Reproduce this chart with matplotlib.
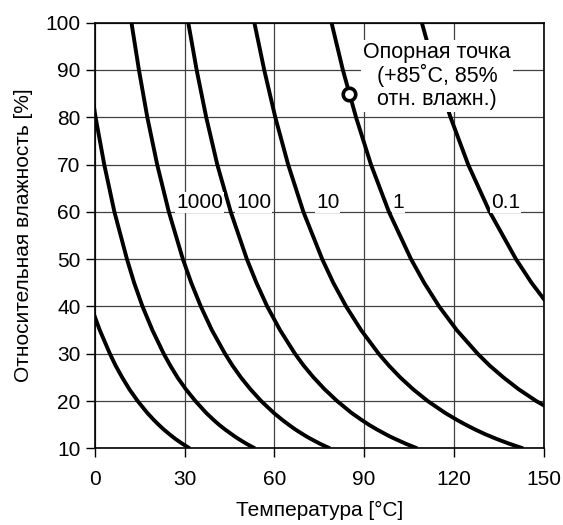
import numpy as np
import matplotlib
matplotlib.use("Agg")
import matplotlib.pyplot as plt

plt.rcParams['font.family'] = ['Liberation Sans', 'DejaVu Sans']

nan = np.nan
# Relative humidity levels [%] at which the temperature of each curve was read
rh_levels = [100, 90, 80, 70, 60, 50, 45, 40, 35, 30, 27.5, 25, 22.5, 20, 17.5, 16, 15, 14, 13, 12.5, 12, 11, 10]
# Temperature [°C] of each iso-lifetime curve at those humidity levels
curve_a = [nan, nan, nan, nan, nan, nan, nan, -1.3, 1.6, 5.0, 6.9, 9.1, 11.5, 14.3, 17.5, 19.7, 21.3, 23.0, 24.9, 25.9, 26.9, 29.2, 31.7]
curve_b = [nan, -2.3, 0.2, 3.1, 6.5, 10.7, 13.1, 15.9, 19.2, 23.0, 25.2, 27.6, 30.4, 33.6, 37.2, 39.7, 41.5, 43.5, 45.7, 46.8, 48.0, 50.6, 53.5]
curve_c = [12.2, 14.7, 17.5, 20.8, 24.7, 29.4, 32.2, 35.4, 39.1, 43.5, 46.0, 48.8, 52.0, 55.6, 59.8, 62.7, 64.8, 67.0, 69.5, 70.8, 72.2, 75.2, 78.6]
curve_d = [31.2, 34.0, 37.2, 40.9, 45.4, 50.8, 54.0, 57.6, 61.9, 66.9, 69.8, 73.1, 76.8, 81.0, 85.8, 89.2, 91.6, 94.3, 97.2, 98.7, 100.4, 103.9, 107.8]
curve_e = [53.3, 56.6, 60.3, 64.6, 69.7, 76.0, 79.7, 84.0, 89.0, 94.9, 98.3, 102.1, 106.4, 111.3, 117.1, 121.1, 124.0, 127.1, 130.5, 132.4, 134.3, 138.5, 143.2]
curve_f = [79.1, 82.9, 87.3, 92.3, 98.3, 105.7, 110.1, 115.1, 121.0, 128.0, 132.0, 136.6, 141.7, 147.6, 154.5, nan, nan, nan, nan, nan, nan, nan, nan]
curve_g = [109.3, 113.7, 118.9, 124.8, 132.0, 140.8, 146.0, 152.0, nan, nan, nan, nan, nan, nan, nan, nan, nan, nan, nan, nan, nan, nan, nan]
curves = [curve_a, curve_b, curve_c, curve_d, curve_e, curve_f, curve_g]

# Curve labels
label_texts = ['1000', '100', '10', '1', '0.1']
label_temps = [35.0, 53.0, 77.8, 101.5, 137.3]
label_rh = [62, 62, 62, 62, 62]

# Reference point
ref_temp = [85]
ref_rh = [85]
ref_text = "Опорная точка\n(+85˚C, 85%\nотн. влажн.)"

x_ticks = [0, 30, 60, 90, 120, 150]
y_ticks = [10, 20, 30, 40, 50, 60, 70, 80, 90, 100]

FS = 15

fig = plt.figure(figsize=(5.63, 5.25), dpi=100)
ax = fig.add_axes([0.1687, 0.1459, 0.7967, 0.8109])

for c in curves:
    ax.plot(c, rh_levels, color='black', lw=2.8, solid_joinstyle='round',
            solid_capstyle='butt', zorder=3)

ax.plot(ref_temp, ref_rh, 'o', ms=9, mfc='white', mec='black', mew=2.6, zorder=6)

for t, x, y in zip(label_texts, label_temps, label_rh):
    ax.text(x, y, t, ha='center', va='center', fontsize=FS, zorder=5,
            bbox=dict(boxstyle='square,pad=0.05', fc='white', ec='none'))

ax.text(114.4, 88.8, ref_text, ha='center', va='center', fontsize=15.5,
        linespacing=1.08, zorder=7,
        bbox=dict(boxstyle='square,pad=0.1', fc='white', ec='none'))

ax.set_xlim(0, 150)
ax.set_ylim(10, 100)
ax.set_xticks(x_ticks)
ax.set_yticks(y_ticks)
ax.grid(True, color='0.25', lw=0.9, zorder=1)
ax.set_axisbelow(True)
ax.tick_params(direction='out', length=6.5, width=1.0, labelsize=FS)
ax.tick_params(axis='x', pad=9)
ax.tick_params(axis='y', pad=4)
for s in ax.spines.values():
    s.set_linewidth(1.2)
    s.set_zorder(8)

ax.set_xlabel('Температура [°C]', fontsize=FS, labelpad=9)
ax.set_ylabel('Относительная влажность [%]', fontsize=FS, labelpad=9)

fig.savefig('out.png', dpi=100)
